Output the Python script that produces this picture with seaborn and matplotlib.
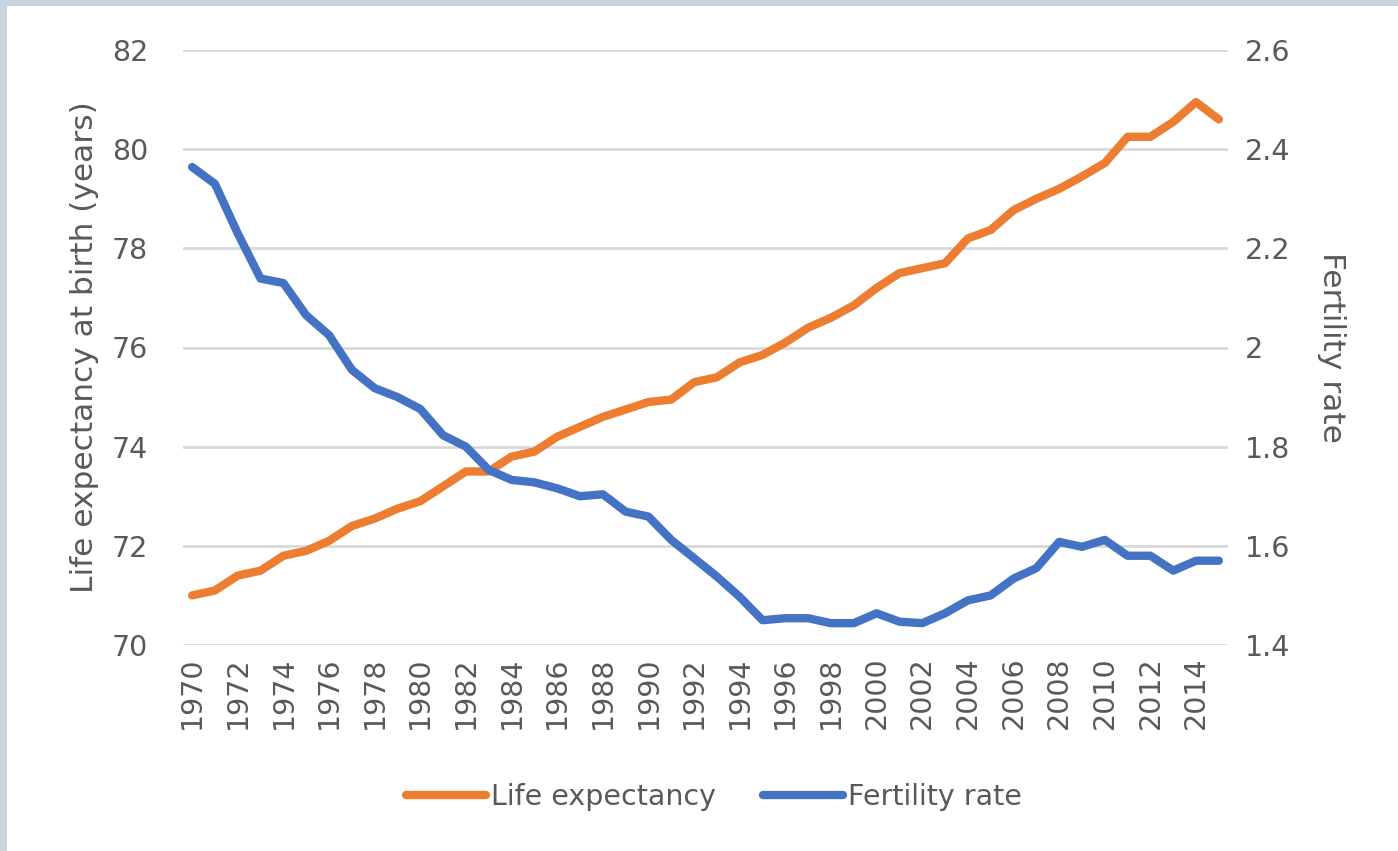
import matplotlib
matplotlib.use("Agg")
import matplotlib.pyplot as plt
import matplotlib.patches as mpatches
from matplotlib.ticker import FuncFormatter, MultipleLocator
import seaborn as sns
import pandas as pd

years = list(range(1970, 2016))
life_expectancy = [71.0, 71.1, 71.4, 71.5, 71.8, 71.9, 72.1, 72.4, 72.55, 72.75,
                   72.9, 73.2, 73.5, 73.5, 73.8, 73.9, 74.2, 74.4, 74.6, 74.75,
                   74.9, 74.95, 75.3, 75.4, 75.7, 75.85, 76.1, 76.4, 76.6, 76.85,
                   77.2, 77.5, 77.6, 77.7, 78.2, 78.37, 78.77, 79.0, 79.2, 79.45,
                   79.72, 80.25, 80.25, 80.55, 80.95, 80.6]
fertility_rate = [2.364, 2.33, 2.23, 2.139, 2.13, 2.065, 2.025, 1.955, 1.918, 1.90,
                  1.876, 1.823, 1.80, 1.753, 1.733, 1.728, 1.716, 1.70, 1.704, 1.669,
                  1.659, 1.612, 1.575, 1.538, 1.497, 1.45, 1.454, 1.454, 1.444, 1.444,
                  1.464, 1.447, 1.444, 1.464, 1.49, 1.50, 1.534, 1.555, 1.608, 1.598,
                  1.612, 1.58, 1.58, 1.55, 1.57, 1.57]
series_names = ["Life expectancy", "Fertility rate"]
left_label = "Life expectancy at birth (years)"
right_label = "Fertility rate"

df = pd.DataFrame({"year": years, "life": life_expectancy, "fert": fertility_rate})

sns.set_theme(style="white")
plt.rcParams["font.family"] = ["DejaVu Sans"]

ORANGE = "#ED7D31"
BLUE = "#4472C4"
TXT = "#595959"
GRID = "#d9d9d9"
FS = 20.5
LFS = 20.5
AFS = 22.5

fig = plt.figure(figsize=(13.98, 8.51), dpi=100)
fig.patch.set_facecolor("#c8d3db")
fig.patches.append(mpatches.Rectangle((7 / 1398, 0), 1 - 7 / 1398, (851 - 6) / 851,
                                      transform=fig.transFigure, facecolor="white",
                                      edgecolor="none", zorder=-10))

ax = fig.add_axes([183 / 1398, (851 - 645) / 851, (1228 - 183) / 1398, (645 - 50) / 851])
ax.set_facecolor("none")
ax2 = ax.twinx()
ax2.set_facecolor("none")

sns.lineplot(data=df, x="year", y="life", ax=ax, color=ORANGE, linewidth=6,
             label=series_names[0], legend=False, solid_capstyle="round",
             solid_joinstyle="round")
sns.lineplot(data=df, x="year", y="fert", ax=ax2, color=BLUE, linewidth=6,
             label=series_names[1], legend=False, solid_capstyle="round",
             solid_joinstyle="round")

ax.set_xlim(1969.6, 2015.4)
ax.set_ylim(70, 82)
ax2.set_ylim(1.4, 2.6)
ax.yaxis.set_major_locator(MultipleLocator(2))
ax2.yaxis.set_major_locator(MultipleLocator(0.2))
ax2.yaxis.set_major_formatter(FuncFormatter(lambda v, p: f"{v:g}"))
ax.set_xticks(years[::2])
ax.set_xticklabels([str(y) for y in years[::2]], rotation=90)

ax.grid(True, axis="y", color=GRID, linewidth=2)
ax.grid(False, axis="x")
ax2.grid(False)
for a in (ax, ax2):
    for s in a.spines.values():
        s.set_visible(False)

ax.tick_params(axis="y", length=0, pad=25, labelsize=FS, labelcolor=TXT)
ax.tick_params(axis="x", length=0, pad=8, labelsize=FS, labelcolor=TXT)
ax2.tick_params(axis="y", length=0, pad=12, labelsize=FS, labelcolor=TXT)

ax.set_xlabel("")
ax.set_ylabel(left_label, fontsize=AFS, color=TXT, labelpad=9)
ax2.set_ylabel(right_label, fontsize=AFS, color=TXT, rotation=270, labelpad=40)

h1, l1 = ax.get_legend_handles_labels()
h2, l2 = ax2.get_legend_handles_labels()
fig.legend(h1 + h2, l1 + l2, loc="center", bbox_to_anchor=(714 / 1398, (851 - 797) / 851),
           ncol=2, frameon=False, fontsize=LFS, labelcolor=TXT, handlelength=2.8,
           handletextpad=0.18, columnspacing=1.65)

fig.savefig("out.png", dpi=100, facecolor=fig.get_facecolor())
